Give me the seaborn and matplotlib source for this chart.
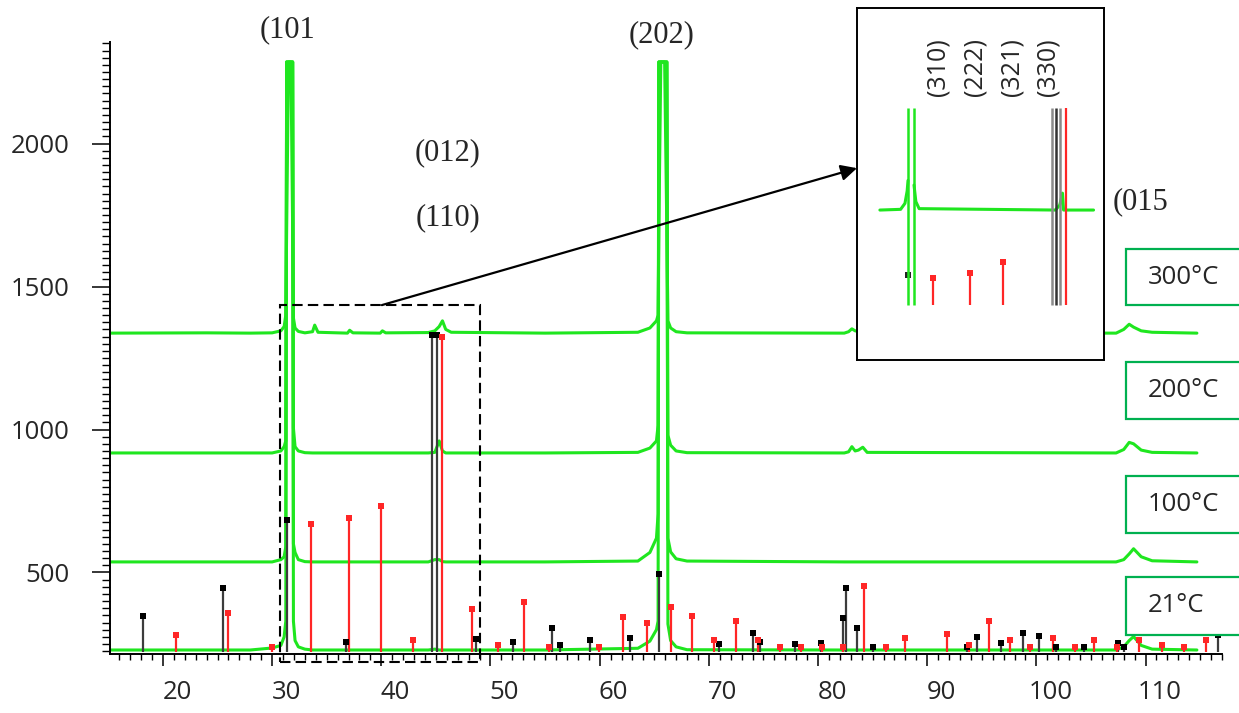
import matplotlib
matplotlib.use("Agg")
import matplotlib.pyplot as plt
import matplotlib.transforms as mtransforms
from matplotlib.patches import Rectangle
from matplotlib.ticker import MultipleLocator
import seaborn as sns
import pandas as pd

# 2-theta grid shared by the four measured patterns
angle = [15.15, 24.0, 28.0, 30.0, 30.8, 31.1, 31.25, 31.33, 31.5, 31.72, 31.88, 31.95,
         32.1, 32.4, 33.0, 33.7, 33.9, 34.2, 36.9, 37.1, 37.4, 39.9, 40.1, 40.4,
         44.3, 44.9, 45.3, 45.6, 45.9, 46.4, 55.0, 63.5, 64.6, 65.2, 65.35, 65.42,
         65.6, 65.95, 66.15, 66.25, 66.5, 67.0, 68.0, 82.4, 82.8, 83.1, 83.4, 83.7,
         84.1, 84.5, 107.3, 108.0, 108.5, 108.9, 109.6, 110.6, 114.7]

i_21 = [229, 229, 229, 236, 245, 275, 330, 2285, 2285, 2285, 2285, 330,
        262, 240, 232, 229, 229, 229, 229, 229, 229, 229, 229, 229,
        229, 232, 229, 229, 229, 229, 229, 235, 260, 300, 330, 2285,
        2285, 2285, 2285, 320, 262, 240, 230, 229, 229, 229, 229, 229,
        229, 229, 229, 240, 262, 276, 245, 232, 229]
i_100 = [537, 537, 537, 537, 545, 555, 590, 2285, 2285, 2285, 2285, 600,
         570, 545, 538, 537, 537, 537, 537, 537, 537, 537, 537, 537,
         537, 545, 545, 538, 537, 537, 537, 540, 570, 620, 705, 2285,
         2285, 2285, 2285, 620, 572, 548, 540, 537, 537, 537, 537, 537,
         537, 537, 537, 545, 565, 583, 555, 541, 537]
i_200 = [918, 918, 918, 918, 925, 940, 960, 2285, 2285, 2285, 2285, 1005,
         940, 925, 919, 918, 918, 918, 918, 918, 918, 918, 918, 918,
         918, 920, 960, 925, 918, 918, 918, 920, 935, 960, 1015, 2285,
         2285, 2285, 2285, 980, 945, 925, 919, 918, 922, 940, 925, 928,
         938, 920, 918, 930, 955, 950, 928, 920, 918]
i_300 = [1337, 1338, 1337, 1338, 1345, 1360, 1400, 1700, 2285, 2285, 1700, 1390,
         1355, 1343, 1338, 1342, 1365, 1340, 1337, 1347, 1338, 1337, 1345, 1338,
         1339, 1345, 1360, 1380, 1350, 1340, 1337, 1340, 1355, 1380, 1400, 1700,
         2285, 2285, 1700, 1380, 1355, 1342, 1338, 1337, 1342, 1352, 1345, 1343,
         1340, 1338, 1337, 1350, 1368, 1358, 1345, 1340, 1337]

temps = ['21°C', '100°C', '200°C', '300°C']

# reference pattern stems (black phase / red phase)
black_pos = [18.2, 25.5, 31.4, 36.8, 44.6, 45.1, 48.7, 52.1, 55.6, 56.4, 59.1, 62.8,
             65.4, 70.9, 74.0, 74.7, 77.9, 80.3, 82.3, 82.6, 83.6, 85.0, 93.6, 94.6,
             96.8, 98.8, 100.2, 101.8, 104.4, 107.5, 108.0, 116.6]
black_int = [348, 446, 684, 257, 1330, 1330, 267, 257, 306, 247, 264, 271,
             495, 250, 288, 257, 250, 254, 341, 446, 306, 240, 240, 274,
             254, 288, 278, 240, 240, 254, 240, 281]
red_pos = [21.2, 26.0, 30.0, 33.6, 37.0, 40.0, 42.9, 45.6, 48.3, 50.7, 53.1, 55.4,
           59.9, 62.1, 64.3, 66.5, 68.5, 70.5, 72.5, 74.5, 76.5, 78.4, 80.4, 82.3,
           84.2, 86.2, 88.0, 91.8, 93.8, 95.7, 97.6, 99.4, 101.5, 103.5, 105.3, 107.4,
           109.4, 111.5, 113.5, 115.5]
red_int = [281, 358, 240, 670, 691, 732, 264, 1323, 372, 247, 397, 240,
           240, 344, 323, 379, 348, 264, 330, 264, 240, 240, 240, 240,
           453, 240, 271, 285, 247, 330, 264, 240, 271, 240, 264, 240,
           264, 247, 240, 264]
stem_base = 222

# zoomed view (arbitrary intensity units 0-100)
zoom_left_x = [28.7, 30.6, 31.0, 31.2, 31.28]
zoom_left_y = [42.6, 42.8, 44.5, 48.0, 51.0]
zoom_right_x = [31.83, 32.0, 32.3, 44.8, 45.2, 45.45, 45.55, 48.3]
zoom_right_y = [49.7, 45.0, 43.0, 42.6, 44.0, 47.4, 42.6, 42.6]
zoom_spike_x = [31.28, 31.83]
zoom_gray_x = [44.5, 44.85, 45.2]
zoom_red_line_x = [45.75]
zoom_line_lo, zoom_line_hi = 15.6, 71.6
zoom_red_x = [33.6, 37.0, 40.0]
zoom_red_y = [23.3, 24.7, 27.8]
zoom_black_x = [31.3]
zoom_black_y = [24.1]
zoom_hkl = ['(310)', '(222)', '(321)', '(330)']
zoom_hkl_x = [34.0, 37.4, 40.8, 44.1]

GREEN = '#1fe61f'
RED = '#ff2626'
GRAY = '#3c3c3c'
BOXGREEN = '#00b050'

sns.set_style("ticks")
plt.rcParams['font.family'] = ['Open Sans', 'DejaVu Sans']

W, H = 1239, 713
fig = plt.figure(figsize=(W / 100, H / 100), dpi=100)


def px_box(x0, y0, x1, y1):
    return [x0 / W, 1 - y1 / H, (x1 - x0) / W, (y1 - y0) / H]


ax = fig.add_axes(px_box(110, 42, 1222, 654))

df = pd.DataFrame({
    'angle': angle * 4,
    'intensity': i_21 + i_100 + i_200 + i_300,
    'temp': [t for t in temps for _ in angle],
})
sns.lineplot(data=df, x='angle', y='intensity', hue='temp', units='temp',
             palette=[GREEN] * 4, estimator=None, sort=False, legend=False,
             lw=2.2, ax=ax, zorder=2)

ax.vlines(black_pos, stem_base, black_int, colors=GRAY, lw=1.6, zorder=3)
ax.vlines(red_pos, stem_base, red_int, colors=RED, lw=1.6, zorder=3)
sns.scatterplot(x=black_pos, y=black_int, marker='s', color='black', s=22,
                linewidth=0, ax=ax, zorder=4)
sns.scatterplot(x=red_pos, y=red_int, marker='s', color=RED, s=22,
                linewidth=0, ax=ax, zorder=4)

ax.set_xlim(15.15, 117)
ax.set_ylim(215, 2355)
ax.set_xlabel('')
ax.set_ylabel('')
for s in ['top', 'right']:
    ax.spines[s].set_visible(False)
for s in ['left', 'bottom']:
    ax.spines[s].set_color('black')
    ax.spines[s].set_linewidth(1.4)

ax.set_xticks(range(20, 111, 10))
ax.xaxis.set_minor_locator(MultipleLocator(1))
ax.set_yticks([500, 1000, 1500, 2000])
ax.yaxis.set_minor_locator(MultipleLocator(25))
ax.tick_params(axis='both', which='both', bottom=True, left=True, top=False, right=False)
ax.tick_params(axis='x', which='major', direction='out', length=8.5, width=1.1,
               pad=10, labelsize=18.5, color='black')
ax.tick_params(axis='x', which='minor', direction='out', length=4, width=1.0, color='black')
ax.tick_params(axis='y', which='major', direction='out', length=13, width=1.1,
               pad=16, labelsize=18.5, color='black')
ax.tick_params(axis='y', which='minor', direction='out', length=5.5, width=1.0, color='black')
shift = mtransforms.ScaledTranslation(0.14, 0, fig.dpi_scale_trans)
for lab in ax.get_xticklabels():
    lab.set_transform(lab.get_transform() + shift)

# dashed region that is magnified
ax.add_patch(Rectangle((30.7, 187), 18.3, 1248, fill=False, ls=(0, (5, 2.5)),
                       lw=1.5, ec='black', clip_on=False, zorder=5))

# zoom panel
ins = fig.add_axes(px_box(857, 8, 1104, 360))
ins.set_facecolor('white')
ins.set_xlim(26.6, 49.26)
ins.set_ylim(0, 100)
ins.set_xticks([])
ins.set_yticks([])
for s in ins.spines.values():
    s.set_color('black')
    s.set_linewidth(1.4)
sns.lineplot(x=zoom_left_x, y=zoom_left_y, color=GREEN, lw=2.2, ax=ins,
             estimator=None, sort=False)
sns.lineplot(x=zoom_right_x, y=zoom_right_y, color=GREEN, lw=2.2, ax=ins,
             estimator=None, sort=False)
ins.vlines(zoom_spike_x, zoom_line_lo, zoom_line_hi, colors=GREEN, lw=1.8)
ins.vlines(zoom_gray_x, zoom_line_lo, zoom_line_hi, colors=['#8a8a8a', '#333333', '#8a8a8a'], lw=1.8)
ins.vlines(zoom_red_line_x, zoom_line_lo, zoom_line_hi, colors=RED, lw=1.6)
ins.vlines(zoom_red_x, zoom_line_lo, zoom_red_y, colors=RED, lw=1.6)
sns.scatterplot(x=zoom_red_x, y=zoom_red_y, marker='s', color=RED, s=22, linewidth=0, ax=ins)
sns.scatterplot(x=zoom_black_x, y=zoom_black_y, marker='s', color='#222222', s=22, linewidth=0, ax=ins)
for lab, xv in zip(zoom_hkl, zoom_hkl_x):
    ins.text(xv, 83.2, lab, rotation=90, ha='center', va='center', fontsize=18)

ax.annotate('', xy=(0, 0.545), xycoords=ins.transAxes, xytext=(40.05, 1435),
            textcoords='data', annotation_clip=False,
            arrowprops=dict(arrowstyle='-|>', color='black', lw=1.6,
                            mutation_scale=24, shrinkA=0, shrinkB=0))

# temperature labels
for lab, y0, y1 in [('300°C', 249, 305), ('200°C', 362, 419), ('100°C', 476, 533), ('21°C', 577, 635)]:
    fig.add_artist(Rectangle((1126 / W, 1 - y1 / H), 130 / W, (y1 - y0) / H,
                             transform=fig.transFigure, fill=True, fc='white',
                             ec=BOXGREEN, lw=1.6))
    fig.text(1148 / W, 1 - (y0 + y1) / 2 / H, lab, ha='left', va='center', fontsize=18.5)

# Miller indices of the main peaks
serif = ['Liberation Serif', 'DejaVu Serif']
fig.text(260 / W, 1 - 30 / H, '(101', family=serif, fontsize=22, ha='left', va='center')
fig.text(662 / W, 1 - 35 / H, '(202)', family=serif, fontsize=22, ha='center', va='center')
fig.text(448 / W, 1 - 153 / H, '(012)', family=serif, fontsize=22, ha='center', va='center')
fig.text(448 / W, 1 - 218 / H, '(110)', family=serif, fontsize=22, ha='center', va='center')
fig.text(1113 / W, 1 - 202 / H, '(015', family=serif, fontsize=22, ha='left', va='center')

fig.savefig('out.png', dpi=100)
